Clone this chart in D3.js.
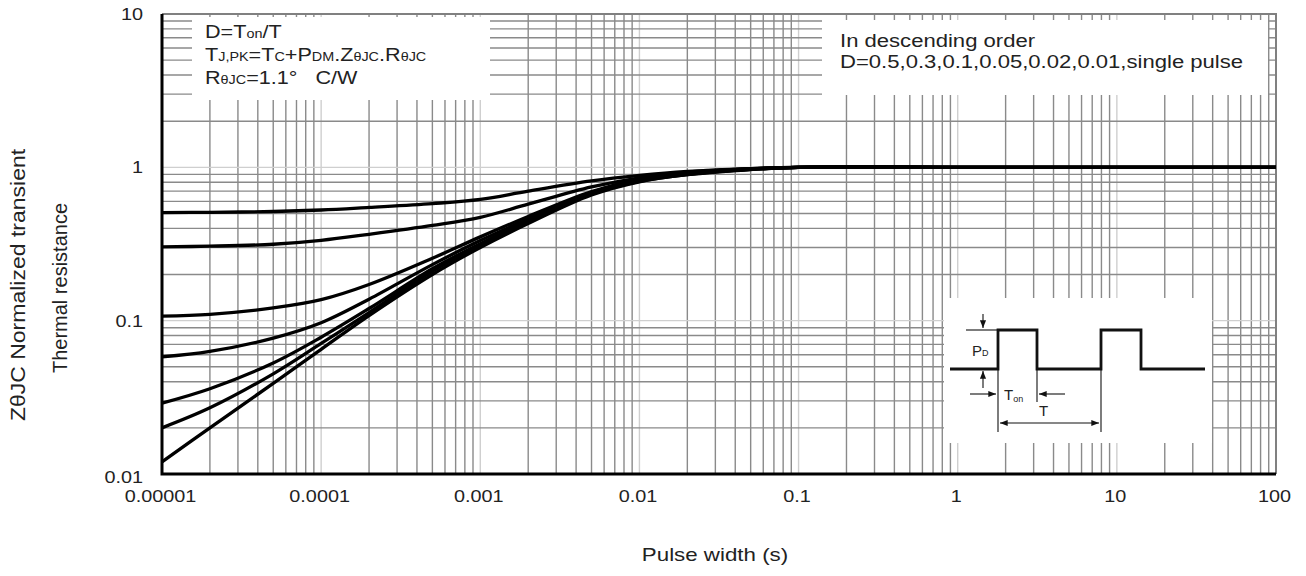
<!DOCTYPE html>
<html>
<head>
<meta charset="utf-8">
<script src="https://cdn.jsdelivr.net/npm/d3@7"></script>
<style>
  body { margin: 0; background: #fff; }
  svg text { font-family: Arial, "Liberation Sans", sans-serif; fill: #222; }
</style>
</head>
<body>
<svg id="chart" width="1306" height="576"></svg>
<script>
// pulse widths (s) where the curves were read
const pulseWidths = [1e-5, 2e-5, 5e-5, 1e-4, 2e-4, 5e-4, 1e-3, 2e-3, 5e-3, 1e-2, 2e-2, 5e-2, 1e-1, 1, 10, 100];

// normalized Z(theta)JC, one list per duty cycle
const d050 = [0.506, 0.509, 0.515, 0.527, 0.548, 0.580, 0.618, 0.700, 0.815, 0.885, 0.940, 0.982, 1.0, 1.0, 1.0, 1.0];
const d030 = [0.303, 0.306, 0.315, 0.334, 0.366, 0.418, 0.472, 0.575, 0.745, 0.855, 0.930, 0.980, 1.0, 1.0, 1.0, 1.0];
const d010 = [0.107, 0.110, 0.121, 0.137, 0.172, 0.255, 0.352, 0.478, 0.695, 0.835, 0.915, 0.975, 1.0, 1.0, 1.0, 1.0];
const d005 = [0.058, 0.063, 0.077, 0.097, 0.138, 0.232, 0.333, 0.460, 0.685, 0.825, 0.910, 0.973, 1.0, 1.0, 1.0, 1.0];
const d002 = [0.029, 0.036, 0.053, 0.078, 0.120, 0.218, 0.318, 0.448, 0.675, 0.815, 0.902, 0.970, 1.0, 1.0, 1.0, 1.0];
const d001 = [0.020, 0.027, 0.045, 0.071, 0.113, 0.210, 0.310, 0.440, 0.668, 0.810, 0.898, 0.970, 1.0, 1.0, 1.0, 1.0];
const single = [0.012, 0.020, 0.039, 0.065, 0.108, 0.200, 0.300, 0.430, 0.660, 0.805, 0.895, 0.968, 1.0, 1.0, 1.0, 1.0];

const seriesList = [d050, d030, d010, d005, d002, d001, single];

const xTickValues = [1e-5, 1e-4, 1e-3, 1e-2, 1e-1, 1, 10, 100];
const xTickLabels = ['0.00001', '0.0001', '0.001', '0.01', '0.1', '1', '10', '100'];
const yTickValues = [0.01, 0.1, 1, 10];
const yTickLabels = ['0.01', '0.1', '1', '10'];

const SX = 1.24;   // the picture is stretched sideways, text follows it

const svg = d3.select('#chart');
const plotLeft = 162, plotRight = 1276, plotTop = 14, plotBottom = 474;

const xScale = d3.scaleLog().domain([1e-5, 100]).range([plotLeft, plotRight]);
const yScale = d3.scaleLog().domain([0.01, 10]).range([plotBottom, plotTop]);

// grid, decades light, the 2..9 lines darker
const xGrid = [];
for (let e = -5; e <= 1; e++) {
    for (let k = 1; k <= 9; k++) xGrid.push({v: k * Math.pow(10, e), major: k === 1});
}
xGrid.push({v: 100, major: true});
const yGrid = [];
for (let e = -2; e <= 0; e++) {
    for (let k = 1; k <= 9; k++) yGrid.push({v: k * Math.pow(10, e), major: k === 1});
}
yGrid.push({v: 10, major: true});

const grid = svg.append('g').attr('class', 'grid');
grid.selectAll('line.gx')
    .data(xGrid)
    .enter()
    .append('line')
    .attr('x1', d => xScale(d.v))
    .attr('x2', d => xScale(d.v))
    .attr('y1', plotTop)
    .attr('y2', plotBottom)
    .attr('stroke', d => d.major ? '#cfcfcf' : '#8a8a8a')
    .attr('stroke-width', 1.4);
grid.selectAll('line.gy')
    .data(yGrid)
    .enter()
    .append('line')
    .attr('y1', d => yScale(d.v))
    .attr('y2', d => yScale(d.v))
    .attr('x1', plotLeft)
    .attr('x2', plotRight)
    .attr('stroke', d => d.major ? '#cfcfcf' : '#8a8a8a')
    .attr('stroke-width', 1.4);

// top and right border
svg.append('path')
    .attr('d', `M${plotLeft},${plotTop}H${plotRight}V${plotBottom}`)
    .attr('fill', 'none')
    .attr('stroke', '#808080')
    .attr('stroke-width', 2);

// white note boxes over the grid
svg.append('rect').attr('x', 192).attr('y', 17).attr('width', 298).attr('height', 83).attr('fill', '#fff');
svg.append('rect').attr('x', 822).attr('y', 20).attr('width', 446).attr('height', 75).attr('fill', '#fff');
svg.append('rect').attr('x', 944).attr('y', 298).attr('width', 268).attr('height', 145).attr('fill', '#fff');

// curves
const line = d3.line()
    .x(d => xScale(d[0]))
    .y(d => yScale(d[1]))
    .curve(d3.curveCatmullRom.alpha(0.5));

svg.append('g')
    .selectAll('path')
    .data(seriesList)
    .enter()
    .append('path')
    .attr('d', vals => line(vals.map((v, i) => [pulseWidths[i], v])))
    .attr('fill', 'none')
    .attr('stroke', '#000')
    .attr('stroke-width', 3.3)
    .attr('stroke-linejoin', 'round');

// axes
const xAxis = d3.axisBottom(xScale)
    .tickValues(xTickValues)
    .tickSize(0)
    .tickFormat((d, i) => xTickLabels[i]);
const gx = svg.append('g')
    .attr('transform', `translate(0,${plotBottom})`)
    .call(xAxis);
gx.select('.domain').remove();
gx.selectAll('text')
    .attr('y', 0)
    .attr('dy', 0)
    .attr('transform', `translate(-2,28) scale(${SX},1)`)
    .style('font-size', '16px');

const yAxis = d3.axisLeft(yScale)
    .tickValues(yTickValues)
    .tickSize(0)
    .tickFormat((d, i) => yTickLabels[i]);
const gy = svg.append('g')
    .attr('transform', `translate(${plotLeft},0)`)
    .call(yAxis);
gy.select('.domain').remove();
gy.selectAll('text')
    .attr('x', 0)
    .attr('dy', '0.35em')
    .attr('transform', `translate(-19,0) scale(${SX},1)`)
    .style('font-size', '16px');
gy.selectAll('.tick')
    .filter(d => d === 0.01)
    .select('text')
    .attr('transform', `translate(-19,3) scale(${SX},1)`);

// left and bottom frame
svg.append('path')
    .attr('d', `M${plotLeft},${plotTop}V${plotBottom}H${plotRight}`)
    .attr('fill', 'none')
    .attr('stroke', '#000')
    .attr('stroke-width', 3);

// axis titles
svg.append('text')
    .attr('transform', `translate(715,561) scale(${SX},1)`)
    .attr('text-anchor', 'middle')
    .style('font-size', '18px')
    .text('Pulse width (s)');

const yTitle = svg.append('g');
yTitle.append('text')
    .attr('transform', 'translate(25,285) rotate(-90) scale(1.15,1)')
    .attr('text-anchor', 'middle')
    .style('font-size', '20px')
    .text('Z\u03B8JC Normalized transient');
yTitle.append('text')
    .attr('transform', 'translate(67,288) rotate(-90)')
    .attr('text-anchor', 'middle')
    .style('font-size', '20px')
    .text('Thermal resistance');

// left note: formulas, with the small letters
function noteLine(x, y, parts) {
    const t = svg.append('text')
        .attr('transform', `translate(${x},${y}) scale(1.2,1)`)
        .style('font-size', '18px');
    parts.forEach(p => {
        t.append('tspan')
            .style('font-size', p[1] ? '12px' : '18px')
            .text(p[0]);
    });
}
noteLine(205, 38, [['D=T', 0], ['on', 1], ['/T', 0]]);
noteLine(205, 61, [['T', 0], ['J,PK', 1], ['=T', 0], ['C', 1], ['+P', 0], ['DM', 1], ['.Z', 0], ['\u03B8JC', 1], ['.R', 0], ['\u03B8JC', 1]]);
noteLine(205, 84, [['R', 0], ['\u03B8JC', 1], ['=1.1\u00B0\u00A0\u00A0\u00A0C/W', 0]]);

// right note
svg.append('text')
    .attr('transform', `translate(840,47) scale(${SX},1)`)
    .style('font-size', '17.8px')
    .text('In descending order');
svg.append('text')
    .attr('transform', `translate(840,68) scale(${SX},1)`)
    .style('font-size', '17.8px')
    .text('D=0.5,0.3,0.1,0.05,0.02,0.01,single pulse');

// inset: the pulse train sketch
const inset = svg.append('g').attr('transform', 'translate(944,298)');
const wave = [[6, 71], [54, 71], [54, 32], [93, 32], [93, 71], [157, 71], [157, 32], [197, 32], [197, 71], [261, 71]];
inset.append('path')
    .attr('d', d3.line()(wave))
    .attr('fill', 'none')
    .attr('stroke', '#111')
    .attr('stroke-width', 2.8);
const thin = [
    [[22, 32], [54, 32]],
    [[54, 71], [54, 134]],
    [[93, 71], [93, 104]],
    [[157, 71], [157, 134]]
];
inset.selectAll('path.thin')
    .data(thin)
    .enter()
    .append('path')
    .attr('d', d => d3.line()(d))
    .attr('stroke', '#111')
    .attr('stroke-width', 1.1);

const defs = svg.append('defs');
defs.append('marker')
    .attr('id', 'ah')
    .attr('viewBox', '0 0 10 10')
    .attr('refX', 10).attr('refY', 5)
    .attr('markerWidth', 7).attr('markerHeight', 7)
    .attr('orient', 'auto-start-reverse')
    .append('path')
    .attr('d', 'M0,1L10,5L0,9Z')
    .attr('fill', '#111');

const arrows = [
    {p: [[39, 16], [39, 30]], both: false},
    {p: [[39, 90], [39, 73]], both: false},
    {p: [[26, 96], [52, 96]], both: false},
    {p: [[121, 96], [95, 96]], both: false},
    {p: [[56, 125], [155, 125]], both: true}
];
inset.selectAll('path.arrow')
    .data(arrows)
    .enter()
    .append('path')
    .attr('d', d => d3.line()(d.p))
    .attr('stroke', '#111')
    .attr('stroke-width', 1.1)
    .attr('marker-end', 'url(#ah)')
    .attr('marker-start', d => d.both ? 'url(#ah)' : null);

const pd = inset.append('text').attr('x', 28).attr('y', 58).style('font-size', '15px');
pd.append('tspan').text('P');
pd.append('tspan').style('font-size', '9px').text('D');
const ton = inset.append('text').attr('x', 60).attr('y', 102).style('font-size', '15px');
ton.append('tspan').text('T');
ton.append('tspan').style('font-size', '9px').attr('dy', 2).text('on');
inset.append('text').attr('x', 95).attr('y', 118).style('font-size', '15px').text('T');
</script>
</body>
</html>
